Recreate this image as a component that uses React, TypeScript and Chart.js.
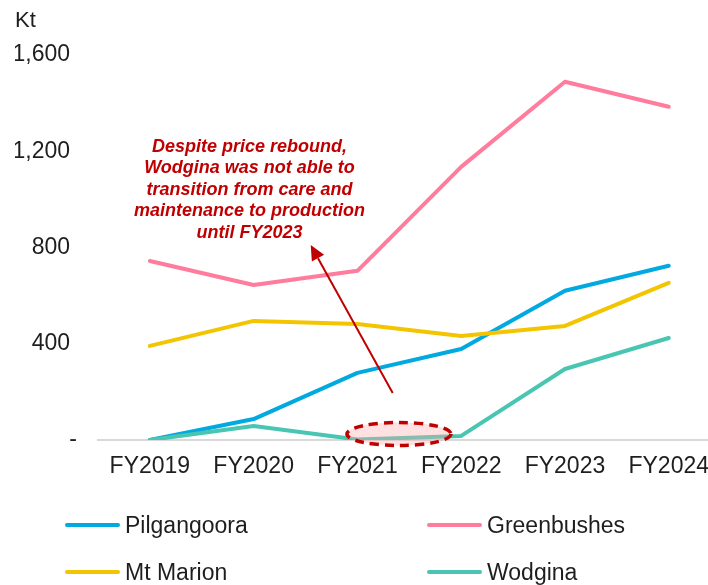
import React, { useEffect, useRef } from "react";
import { Chart, registerables } from "chart.js";

Chart.register(...registerables);

const categories = ["FY2019", "FY2020", "FY2021", "FY2022", "FY2023", "FY2024"];
const pilgangoora = [0, 87, 279, 378, 620, 724];
const greenbushes = [744, 644, 703, 1135, 1489, 1385];
const mtMarion = [391, 495, 482, 432, 474, 653];
const wodgina = [0, 58, 2, 17, 295, 424];
const yTicks = [0, 400, 800, 1200, 1600];
const seriesNames = ["Pilgangoora", "Greenbushes", "Mt Marion", "Wodgina"];
const seriesColors = ["#00A9E0", "#FF7C9C", "#F2C500", "#48C6B2"];
const annotationLines = [
  "Despite price rebound,",
  "Wodgina was not able to",
  "transition from care and",
  "maintenance to production",
  "until FY2023",
];

const FONT = '"Liberation Sans", Arial, sans-serif';
const TEXT = "#1e1e1e";
const RED = "#C00000";

const overlayPlugin = {
  id: "overlay",
  afterDatasetsDraw(chart: any) {
    const ctx = chart.ctx;
    const xs = chart.scales.x;
    const ys = chart.scales.y;
    ctx.save();
    // ellipse highlight
    const cx = xs.getPixelForValue(2) * 0.6 + xs.getPixelForValue(3) * 0.4;
    const cy = ys.getPixelForValue(25);
    ctx.beginPath();
    ctx.ellipse(cx, cy, 52, 11.5, 0, 0, Math.PI * 2);
    ctx.fillStyle = "rgba(255,170,170,0.35)";
    ctx.fill();
    ctx.setLineDash([9, 6]);
    ctx.lineWidth = 3.5;
    ctx.strokeStyle = RED;
    ctx.stroke();
    ctx.setLineDash([]);

    // arrow
    const x1 = xs.getPixelForValue(2.34);
    const y1 = ys.getPixelForValue(195);
    const x2 = xs.getPixelForValue(1.55);
    const y2 = ys.getPixelForValue(810);
    const ang = Math.atan2(y2 - y1, x2 - x1);
    const headLen = 15;
    const headW = 7;
    const bx = x2 - headLen * Math.cos(ang);
    const by = y2 - headLen * Math.sin(ang);
    ctx.beginPath();
    ctx.moveTo(x1, y1);
    ctx.lineTo(bx, by);
    ctx.lineWidth = 2;
    ctx.strokeStyle = RED;
    ctx.stroke();
    ctx.beginPath();
    ctx.moveTo(x2, y2);
    ctx.lineTo(bx + headW * Math.sin(ang), by - headW * Math.cos(ang));
    ctx.lineTo(bx - headW * Math.sin(ang), by + headW * Math.cos(ang));
    ctx.closePath();
    ctx.fillStyle = RED;
    ctx.fill();

    // annotation text
    const tx = xs.getPixelForValue(0.96);
    ctx.font = `italic bold 18px ${FONT}`;
    ctx.fillStyle = RED;
    ctx.textAlign = "center";
    ctx.textBaseline = "middle";
    annotationLines.forEach((line, i) => {
      ctx.fillText(line, tx, 139 + i * 21.5);
    });
    ctx.restore();
  },
  afterDraw(chart: any) {
    const ctx = chart.ctx;
    const ys = chart.scales.y;
    ctx.save();
    // unit label
    ctx.font = `22px ${FONT}`;
    ctx.fillStyle = TEXT;
    ctx.textAlign = "left";
    ctx.textBaseline = "alphabetic";
    ctx.fillText("Kt", 7, 19);
    // zero tick label (accounting dash, slightly indented)
    ctx.font = `23px ${FONT}`;
    ctx.textAlign = "right";
    ctx.textBaseline = "middle";
    ctx.fillText("-", 69, ys.getPixelForValue(0));
    // legend
    const cols = [57, 419];
    const rows = [517, 564];
    seriesNames.forEach((name, i) => {
      const x = cols[i % 2];
      const y = rows[Math.floor(i / 2)];
      ctx.beginPath();
      ctx.moveTo(x + 2, y);
      ctx.lineTo(x + 53, y);
      ctx.lineWidth = 4;
      ctx.lineCap = "round";
      ctx.strokeStyle = seriesColors[i];
      ctx.stroke();
      ctx.font = `23px ${FONT}`;
      ctx.fillStyle = TEXT;
      ctx.textAlign = "left";
      ctx.textBaseline = "alphabetic";
      ctx.fillText(name, x + 60, y + 8);
    });
    ctx.restore();
  },
};

export default function App() {
  const ref = useRef<HTMLCanvasElement | null>(null);
  useEffect(() => {
    document.body.style.margin = "8px 0 0 8px";
    const seriesData = [pilgangoora, greenbushes, mtMarion, wodgina];
    const chart = new Chart(ref.current as HTMLCanvasElement, {
      type: "line",
      data: {
        labels: categories,
        datasets: seriesNames.map((name, i) => ({
          label: name,
          data: seriesData[i],
          borderColor: seriesColors[i],
          backgroundColor: seriesColors[i],
          borderWidth: 4,
          pointRadius: 0,
          tension: 0,
          borderCapStyle: "round" as const,
          borderJoinStyle: "round" as const,
          order: 4 - i,
        })),
      },
      options: {
        responsive: false,
        animation: false,
        layout: { padding: { left: 7, right: 0, top: 47, bottom: 104 } },
        plugins: {
          legend: { display: false },
          tooltip: { enabled: false },
        },
        scales: {
          x: {
            type: "category",
            offset: true,
            grid: { display: false, drawTicks: false },
            border: { display: true, color: "#d9d9d9", width: 2 },
            ticks: {
              color: TEXT,
              font: { family: FONT, size: 23 },
              padding: 13,
              maxRotation: 0,
              autoSkip: false,
            },
            afterFit: (s: any) => {
              s.height = 41;
            },
          },
          y: {
            min: 0,
            max: 1600,
            afterBuildTicks: (s: any) => {
              s.ticks = yTicks.map((v) => ({ value: v }));
            },
            grid: { display: false, drawTicks: false },
            border: { display: false },
            ticks: {
              color: TEXT,
              font: { family: FONT, size: 23 },
              padding: 28,
              callback: (v: any) => (Number(v) === 0 ? "" : Number(v).toLocaleString("en-US")),
            },
            afterFit: (s: any) => {
              s.width = 83;
            },
          },
        },
      },
      plugins: [overlayPlugin],
    });
    return () => chart.destroy();
  }, []);
  return (
    <div style={{ width: 700, height: 577, overflow: "hidden", position: "relative" }}>
      <canvas ref={ref} width={714} height={577} style={{ display: "block" }} />
    </div>
  );
}
